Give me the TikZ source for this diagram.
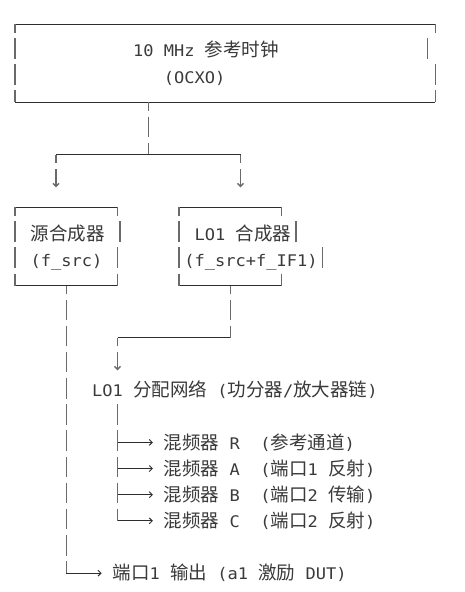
\documentclass[tikz,border=0pt]{standalone}
\usepackage{fontspec}
\usetikzlibrary{arrows.meta}

\newfontfamily\monofont[FakeStretch=1.064]{DejaVu Sans Mono}
\newfontfamily\cjkfont{Noto Sans CJK SC}
\newcommand{\zh}[1]{{\cjkfont\fontsize{18.5}{20}\selectfont #1}}

\definecolor{textgray}{HTML}{3A3A3A}
\definecolor{hgray}{HTML}{2E2E2E}
\definecolor{vgray}{HTML}{6A6A6A}

\tikzset{
	hline/.style={draw=hgray, line width=0.9pt},
	vline/.style={draw=vgray, line width=1.5pt, dash pattern=on 20.5pt off 5.65pt, dash phase=12pt},
	vseg/.style={vline, dash phase=25.075pt},
	tipdown/.style={-{Straight Barb[length=3pt, width=6pt]}},
	tipright/.style={-{Straight Barb[length=3pt, width=6pt]}},
	txt/.style={anchor=base west, inner sep=0pt, text=textgray, font=\monofont\fontsize{16}{19}\selectfont},
}

\begin{document}
\begin{tikzpicture}[x=10.25pt, y=-26.15pt]

	\fill [white] (-1.4634,-0.9178) rectangle (43.8049,21.7208);

	% reference clock
	\draw [hline] (0,0) -- (41,0);
	\draw [hline] (0,3) -- (41,3);
	\draw [vline] (0,0) -- (0,3);
	\draw [vline] (41,0) -- (41,0.5);
	\draw [vseg] (40.22,0.5) -- (40.22,1.5);
	\draw [vseg] (41,1.5) -- (41,3);
	\node [txt] (clk) at (11.5,1.26) {10 MHz \zh{参考时钟}};
	\node [txt] (ocxo) at (14.5,2.26) {(OCXO)};

	\coordinate (clkout) at (13,3);
	\coordinate (fork) at (13,5);
	\coordinate (forkL) at (4,5);
	\coordinate (forkR) at (22,5);
	\draw [vline] (clkout) -- (fork);
	\draw [hline] (forkL) -- (forkR);
	\draw [vline, tipdown] (forkL) -- (4,6.25);
	\draw [vline, tipdown] (forkR) -- (22,6.25);

	% source synthesizer
	\draw [hline] (0,7) -- (10,7);
	\draw [hline] (0,10) -- (10,10);
	\draw [vline] (0,7) -- (0,10);
	\draw [vline] (10,7) -- (10,7.5);
	\draw [vseg] (10.22,7.5) -- (10.22,8.5);
	\draw [vseg] (10,8.5) -- (10,10);
	\node [txt] (src) at (1.5,8.26) {\zh{源合成器}};
	\node [txt] (fsrc) at (1.5,9.26) {(f\_src)};

	% LO1 synthesizer
	\draw [hline] (16,7) -- (26,7);
	\draw [hline] (16,10) -- (26,10);
	\draw [vline] (16,7) -- (16,10);
	\draw [vline] (26,7) -- (26,7.5);
	\draw [vseg] (27.4,7.5) -- (27.4,8.5);
	\draw [vseg] (30,8.5) -- (30,9.5);
	\draw [vseg] (26,9.5) -- (26,10);
	\node [txt] (lo) at (17.5,8.26) {LO1 \zh{合成器}};
	\node [txt] (flo) at (16.5,9.26) {(f\_src+f\_IF1)};

	%%%%%%%%%%%%%%%%%%%%%%%%%%%%%%%%%%%%%%%%%%%%%%%%%%%%%%%%%%%%%%%%

	\coordinate (loout) at (21,10);
	\coordinate (lobend) at (21,12);
	\coordinate (distin) at (10,12);
	\draw [vline] (loout) -- (lobend);
	\draw [hline] (distin) -- (lobend);
	\draw [vline, tipdown] (distin) -- (10,13.25);
	\node [txt] (dist) at (7.5,14.26) {LO1 \zh{分配网络} (\zh{功分器}/\zh{放大器链})};

	\draw [vseg] (10,14.5) -- (10,19);
	\foreach \r/\ch/\what in {16/R/{\zh{参考通道}}, 17/A/{\zh{端口}1 \zh{反射}}, 18/B/{\zh{端口}2 \zh{传输}}, 19/C/{\zh{端口}2 \zh{反射}}} {
		\draw [hline, tipright] (10,\r) -- (13.45,\r);
		\node [txt] (mix\ch) at (14.5,\r+0.26) {\zh{混频器} \ch~~(\what)};
	}

	% port 1 output
	\coordinate (srcout) at (5,10);
	\coordinate (portbend) at (5,21);
	\draw [vline] (srcout) -- (portbend);
	\draw [hline, tipright] (portbend) -- (8.45,21);
	\node [txt] (port) at (9.5,21.26) {\zh{端口}1 \zh{输出} (a1 \zh{激励} DUT)};

\end{tikzpicture}
\end{document}
